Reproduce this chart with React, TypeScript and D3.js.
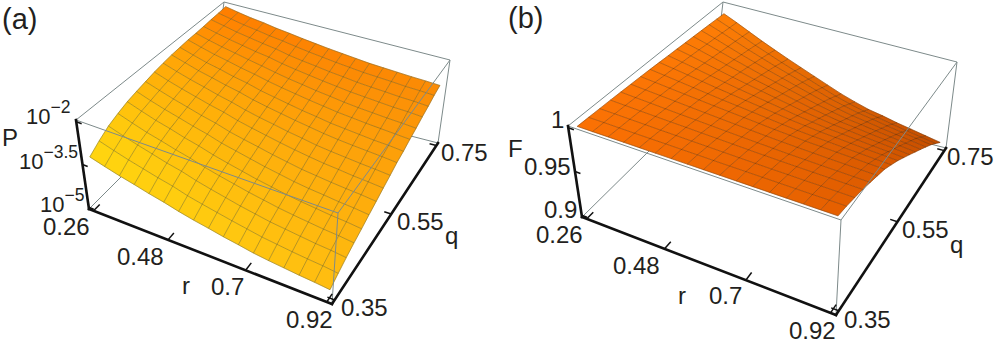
import * as d3 from 'd3'

const rTicks = [0.26, 0.48, 0.7, 0.92]
const qTicks = [0.35, 0.55, 0.75]
const logPTicks = [-5, -3.5, -2]
const fTicks = [0.9, 0.95, 1]

// log10(P), one row per q mesh line (q=0.35 first), r=0.26..0.92 along each row
const logPRows = [
  [-3.28,-3.43,-3.57,-3.69,-3.82,-3.93,-4.06,-4.17,-4.26,-4.36,-4.44,-4.53,-4.59,-4.64,-4.69,-4.73,-4.78],
  [-3.03,-3.19,-3.34,-3.47,-3.60,-3.71,-3.86,-3.97,-4.07,-4.17,-4.26,-4.35,-4.41,-4.47,-4.52,-4.56,-4.62],
  [-2.81,-2.98,-3.13,-3.27,-3.41,-3.52,-3.67,-3.79,-3.90,-4.01,-4.10,-4.19,-4.25,-4.31,-4.37,-4.41,-4.47],
  [-2.66,-2.83,-2.99,-3.12,-3.26,-3.38,-3.53,-3.65,-3.76,-3.87,-3.96,-4.05,-4.12,-4.18,-4.24,-4.28,-4.34],
  [-2.53,-2.70,-2.86,-2.99,-3.14,-3.26,-3.41,-3.53,-3.64,-3.75,-3.84,-3.93,-4.00,-4.06,-4.12,-4.16,-4.22],
  [-2.44,-2.61,-2.76,-2.89,-3.03,-3.15,-3.30,-3.41,-3.52,-3.63,-3.72,-3.81,-3.88,-3.93,-3.99,-4.03,-4.09],
  [-2.36,-2.52,-2.67,-2.80,-2.94,-3.05,-3.20,-3.31,-3.41,-3.52,-3.61,-3.70,-3.76,-3.82,-3.87,-3.91,-3.97],
  [-2.28,-2.44,-2.58,-2.71,-2.84,-2.95,-3.09,-3.20,-3.30,-3.40,-3.49,-3.57,-3.64,-3.69,-3.75,-3.79,-3.84],
  [-2.22,-2.37,-2.51,-2.63,-2.76,-2.87,-3.00,-3.11,-3.20,-3.30,-3.38,-3.47,-3.53,-3.58,-3.63,-3.67,-3.72],
  [-2.17,-2.31,-2.45,-2.56,-2.68,-2.78,-2.91,-3.01,-3.10,-3.19,-3.27,-3.35,-3.41,-3.46,-3.50,-3.54,-3.59],
  [-2.14,-2.28,-2.41,-2.51,-2.63,-2.72,-2.85,-2.94,-3.03,-3.12,-3.19,-3.27,-3.32,-3.37,-3.42,-3.45,-3.50],
  [-2.11,-2.24,-2.36,-2.46,-2.57,-2.66,-2.77,-2.86,-2.94,-3.02,-3.09,-3.16,-3.21,-3.26,-3.30,-3.34,-3.38],
  [-2.10,-2.22,-2.33,-2.42,-2.52,-2.61,-2.71,-2.80,-2.87,-2.95,-3.01,-3.08,-3.13,-3.17,-3.21,-3.24,-3.28],
  [-2.08,-2.19,-2.29,-2.38,-2.47,-2.54,-2.64,-2.72,-2.79,-2.86,-2.92,-2.98,-3.02,-3.06,-3.10,-3.12,-3.16],
  [-2.05,-2.15,-2.25,-2.33,-2.41,-2.48,-2.58,-2.65,-2.71,-2.78,-2.83,-2.89,-2.93,-2.96,-3.00,-3.02,-3.06],
  [-2.03,-2.12,-2.21,-2.28,-2.36,-2.42,-2.50,-2.57,-2.63,-2.69,-2.74,-2.79,-2.82,-2.85,-2.89,-2.91,-2.94],
  [-2.00,-2.09,-2.17,-2.23,-2.31,-2.37,-2.44,-2.50,-2.56,-2.61,-2.66,-2.71,-2.74,-2.77,-2.80,-2.82,-2.85],
]

const fRows = [
  [1,1,1,1,1,1,1,1,1,1,1,1,1,1,1,1,1],
  [.9998,.9997,.9995,.9993,.9992,.9991,.9989,.9988,.9986,.9985,.9984,.9983,.9982,.9981,.9980,.9980,.9979],
  [.9995,.9992,.9988,.9984,.9980,.9977,.9973,.9970,.9966,.9963,.9960,.9957,.9956,.9953,.9952,.9950,.9948],
  [.9993,.9987,.9980,.9974,.9968,.9963,.9957,.9952,.9946,.9941,.9936,.9932,.9929,.9926,.9923,.9920,.9917],
  [.9989,.9980,.9971,.9961,.9952,.9944,.9935,.9927,.9919,.9911,.9904,.9897,.9893,.9888,.9884,.9879,.9875],
  [.9985,.9973,.9961,.9949,.9937,.9925,.9914,.9903,.9892,.9881,.9872,.9864,.9858,.9851,.9846,.9840,.9834],
  [.9981,.9967,.9951,.9936,.9921,.9906,.9893,.9879,.9865,.9851,.9840,.9829,.9822,.9814,.9807,.9799,.9792],
  [.9976,.9957,.9937,.9916,.9897,.9878,.9861,.9843,.9825,.9807,.9792,.9779,.9769,.9758,.9749,.9739,.9730],
  [.9970,.9947,.9922,.9897,.9873,.9850,.9828,.9806,.9784,.9762,.9744,.9727,.9715,.9702,.9690,.9679,.9667],
  [.9963,.9935,.9905,.9874,.9846,.9817,.9791,.9764,.9737,.9710,.9687,.9667,.9653,.9637,.9622,.9608,.9594],
  [.9957,.9924,.9888,.9852,.9818,.9785,.9753,.9722,.9690,.9658,.9632,.9608,.9591,.9572,.9555,.9539,.9522],
  [.9950,.9912,.9871,.9829,.9791,.9752,.9716,.9679,.9642,.9606,.9576,.9548,.9529,.9507,.9488,.9468,.9449],
  [.9944,.9900,.9853,.9807,.9763,.9719,.9678,.9637,.9595,.9554,.9520,.9488,.9466,.9442,.9420,.9398,.9376],
  [.9937,.9888,.9836,.9784,.9735,.9686,.9640,.9594,.9548,.9502,.9463,.9428,.9404,.9376,.9352,.9327,.9303],
  [.9931,.9877,.9819,.9761,.9707,.9653,.9603,.9552,.9500,.9449,.9407,.9369,.9342,.9311,.9284,.9257,.9230],
  [.9923,.9864,.9800,.9736,.9676,.9616,.9560,.9504,.9446,.9390,.9343,.9301,.9271,.9237,.9207,.9177,.9147],
  [.9916,.9850,.9780,.9710,.9644,.9579,.9517,.9455,.9393,.9331,.9279,.9232,.9200,.9162,.9130,.9097,.9064],
]

type Pt = [number, number]
const font = '"Liberation Sans", Arial, sans-serif'
const textColor = '#231f20'

const rScale = d3.scaleLinear().domain([0.24625, 0.93375]).range([0, 1])
const qScale = d3.scaleLinear().domain([0.34167, 0.75833]).range([0, 1])
const rIndex = d3.scaleLinear().domain([0, 16]).range([0.26, 0.92])
const qIndex = d3.scaleLinear().domain([0, 16]).range([0.35, 0.75])
const line = d3.line()

// perspective squeeze along an axis
const warp = (t: number, k: number) => t / (t + (1 - t) * k)

function makeProjection(c: any) {
  return (u: number, v: number, w: number): Pt => {
    const a = warp(u, 1.07)
    const b = warp(v, 0.79)
    const mix = (p: Pt, s: Pt, t: number): Pt => [p[0] + (s[0] - p[0]) * t, p[1] + (s[1] - p[1]) * t]
    const low = mix(mix(c.b00, c.b10, a), mix(c.b01, c.b11, a), b)
    const high = mix(mix(c.t00, c.t10, a), mix(c.t01, c.t11, a), b)
    return mix(low, high, w)
  }
}

function Label({ x, y, text, sup, size = 24 }: any) {
  if (sup) {
    return (
      <text x={x} y={y} fontSize={size} fontFamily={font} fill={textColor}>
        {text}
        <tspan dy={-11} fontSize={17.5}>{sup}</tspan>
      </text>
    )
  }
  return <text x={x} y={y} fontSize={size} fontFamily={font} fill={textColor}>{text}</text>
}

function Panel({ cfg, rows, zTicks, zDomain }: any) {
  const zScale = d3.scaleLinear().domain(zDomain).range([0, 1])
  const project = makeProjection(cfg.corners)
  const pos = (i: number, j: number): Pt =>
    project(rScale(rIndex(i)), qScale(qIndex(j)), zScale(rows[j][i]))

  const colorFront = d3.scaleLinear<string>().domain([0, 16]).range(cfg.frontColors).interpolate(d3.interpolateRgb)
  const colorBack = d3.scaleLinear<string>().domain([0, 16]).range(cfg.backColors).interpolate(d3.interpolateRgb)
  const cellColor = (i: number, j: number) => d3.interpolateRgb(colorFront(i), colorBack(i))(j / 16)

  const cells: any[] = []
  for (let j = 15; j >= 0; j--) {
    for (let i = 0; i < 16; i++) {
      const d = line([pos(i, j), pos(i + 1, j), pos(i + 1, j + 1), pos(i, j + 1)]) + 'Z'
      const col = cellColor(i + 0.5, j + 0.5)
      cells.push(<path key={i + '-' + j} d={d} fill={col} stroke={col} strokeWidth={0.5} />)
    }
  }

  const nodes = d3.range(17)
  const meshLines = nodes.flatMap((n) => [
    line(nodes.map((i) => pos(i, n))),
    line(nodes.map((j) => pos(n, j))),
  ])

  const edge = (a: number[], b: number[]) => line([project(a[0], a[1], a[2]), project(b[0], b[1], b[2])])
  // box edges behind the surface, then the ones in front of it
  const backEdges = [
    edge([0, 0, 0], [0, 1, 0]), edge([0, 1, 0], [1, 1, 0]), edge([1, 1, 0], [1, 1, 1]),
    edge([0, 1, 0], [0, 1, 1]), edge([0, 0, 1], [0, 1, 1]), edge([0, 1, 1], [1, 1, 1]),
  ]
  const frontEdges = [
    edge([0, 0, 1], [1, 0, 1]), edge([1, 0, 1], [1, 1, 1]), edge([1, 0, 0], [1, 0, 1]),
  ]
  const axes = [edge([0, 0, 0], [1, 0, 0]), edge([1, 0, 0], [1, 1, 0]), edge([0, 0, 0], [0, 0, 1])]

  const ticks = [
    ...rTicks.map((t) => edge([rScale(t), 0, 0], [rScale(t), 0.04, 0])),
    ...qTicks.map((t) => edge([1, qScale(t), 0], [0.972, qScale(t), 0])),
    ...zTicks.map((t: number) => edge([0, 0, zScale(t)], [0.022, 0, zScale(t)])),
  ]

  return (
    <g>
      {backEdges.map((d, i) => <path key={i} d={d!} fill="none" stroke="#7d8a8a" strokeWidth={1} />)}
      {cells}
      {meshLines.map((d, i) => <path key={i} d={d!} fill="none" stroke={cfg.mesh} strokeWidth={0.65} />)}
      {frontEdges.map((d, i) => <path key={i} d={d!} fill="none" stroke="#7d8a8a" strokeWidth={1} />)}
      {ticks.map((d, i) => <path key={i} d={d!} fill="none" stroke="#111" strokeWidth={1.5} />)}
      {axes.map((d, i) => <path key={i} d={d!} fill="none" stroke="#111" strokeWidth={2.6} strokeLinecap="square" />)}
      {cfg.labels.map((l: any, i: number) => <Label key={i} {...l} />)}
    </g>
  )
}

const panelA = {
  corners: {
    b00: [89, 209], b10: [332, 304], b11: [438, 143], b01: [213, 85],
    t00: [76, 120], t10: [338, 213], t11: [450, 60], t01: [224, 2],
  },
  frontColors: ['#ffd80f', '#ffbe10'],
  backColors: ['#ff7c00', '#fb8a05'],
  mesh: 'rgba(85,85,40,0.65)',
  labels: [
    { x: 2, y: 29, text: '(a)', size: 29 },
    { x: 2, y: 146, text: 'P' },
    { x: 26, y: 124, text: '10', sup: '−2', size: 22 },
    { x: 19, y: 169, text: '10', sup: '−3.5', size: 22 },
    { x: 40, y: 212, text: '10', sup: '−5', size: 22 },
    { x: 43, y: 235, text: '0.26' },
    { x: 117, y: 265, text: '0.48' },
    { x: 182, y: 294, text: 'r' },
    { x: 211, y: 295, text: '0.7' },
    { x: 286, y: 328, text: '0.92' },
    { x: 341, y: 316, text: '0.35' },
    { x: 397, y: 230, text: '0.55' },
    { x: 445, y: 244, text: 'q' },
    { x: 441, y: 161, text: '0.75' },
  ],
}

const panelB = {
  corners: {
    b00: [582, 217], b10: [836, 315], b11: [946, 148], b01: [713, 88],
    t00: [568, 126], t10: [841, 220], t11: [957, 62], t01: [723, 2],
  },
  frontColors: ['#fb7204', '#e66000'],
  backColors: ['#ff8006', '#c24c00'],
  mesh: 'rgba(70,40,10,0.55)',
  labels: [
    { x: 508, y: 28, text: '(b)', size: 29 },
    { x: 508, y: 157, text: 'F' },
    { x: 551, y: 128, text: '1' },
    { x: 524, y: 175, text: '0.95' },
    { x: 544, y: 218, text: '0.9' },
    { x: 536, y: 243, text: '0.26' },
    { x: 613, y: 274, text: '0.48' },
    { x: 678, y: 304, text: 'r' },
    { x: 709, y: 304, text: '0.7' },
    { x: 789, y: 339, text: '0.92' },
    { x: 844, y: 328, text: '0.35' },
    { x: 902, y: 238, text: '0.55' },
    { x: 950, y: 253, text: 'q' },
    { x: 947, y: 165, text: '0.75' },
  ],
}

export default function App() {
  return (
    <svg width={997} height={346} style={{ position: 'absolute', left: 0, top: 0, background: '#fff' }}>
      <Panel cfg={panelA} rows={logPRows} zTicks={logPTicks} zDomain={[-5.0625, -1.9375]} />
      <Panel cfg={panelB} rows={fRows} zTicks={fTicks} zDomain={[0.898, 1.002]} />
    </svg>
  )
}
